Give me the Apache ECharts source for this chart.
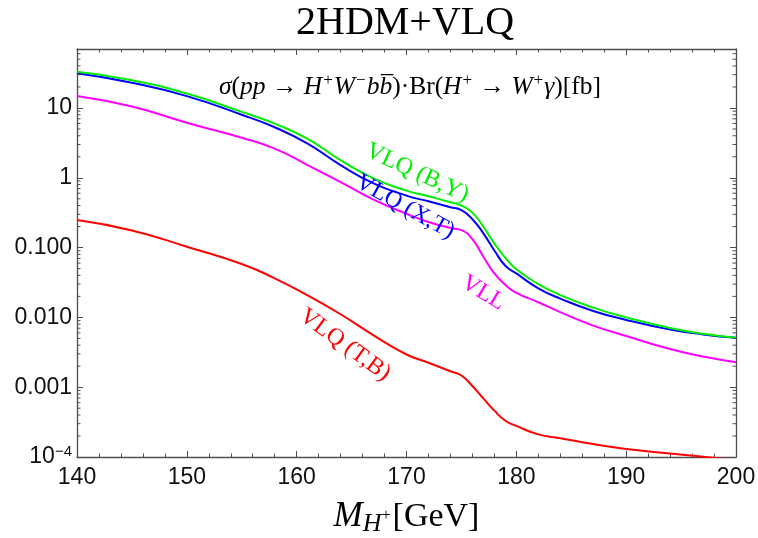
<!DOCTYPE html>
<html><head><meta charset="utf-8">
<script src="https://cdn.jsdelivr.net/npm/echarts@6/dist/echarts.min.js"></script>
<style>html,body{margin:0;padding:0;background:#fff}#c{width:758px;height:538px}</style>
</head><body><div id="c"></div><script>
// ---- data ----
const massX = [140,145,150,155,158,161,164,167,170,172,174,175,176,177,178,179,180,182,184,187,190,194,197,200];
const vlqBY = [33,25,16.1,8.8,5.97,3.61,1.79,0.98,0.655,0.543,0.447,0.40,0.317,0.199,0.115,0.0714,0.0489,0.030,0.0209,0.0138,0.0100,0.00706,0.00583,0.0051];
const vlqXT = [31.4,23,14.8,8.0,5.3,3.08,1.52,0.83,0.555,0.46,0.379,0.343,0.255,0.16,0.091,0.055,0.0427,0.0261,0.0186,0.01236,0.0092,0.00671,0.00571,0.0051];
const vll   = [14.9,10.5,6.14,3.74,2.62,1.52,0.87,0.488,0.305,0.233,0.191,0.178,0.132,0.074,0.0428,0.0293,0.0224,0.0165,0.0119,0.00762,0.00542,0.00352,0.00275,0.00228];
const vlqTB = [0.248,0.176,0.103,0.0583,0.0363,0.0207,0.0111,0.00554,0.00294,0.00224,0.00169,0.00147,0.00104,0.00069,0.000461,0.000331,0.000279,0.000211,0.000186,0.000153,0.00013,0.000112,0.000101,0.000089];
const seriesNames = ['VLQ (B,Y)','VLQ (X,T)','VLL','VLQ (T,B)'];
const yTickValues = [0.0001,0.001,0.01,0.1,1,10];
const yTickLabels = ['10^-4','0.001','0.010','0.100','1','10'];
const xTickLabels = ['140','150','160','170','180','190','200'];
const yMin = 0.0001, yMax = 70;
// ---- style / layout ----
const colors = ['#00ee00','#0000ff','#ff00ff','#ff0000'];
const labelAnchors = [[170.97,1.17,25],[169.87,0.382,29],[176.98,0.0224,31],[164.4,0.00403,36]];
const axisColor = '#4d4d4d';
const serif = 'Liberation Serif', sans = 'Liberation Sans';

const yMinor = [];
for (let k = -4; k <= 1; k++) for (let m = 2; m <= 9; m++) { const v = +(m * Math.pow(10, k)).toPrecision(3); if (v < yMax) yMinor.push(v); }

function fmtY(v) {
  const k = Math.round(Math.log10(v));
  const i = yTickValues.findIndex(t => Math.round(Math.log10(t)) === k);
  const s = i >= 0 ? yTickLabels[i] : '';
  if (s.indexOf('^') >= 0) { const p = s.split('^'); return '{b|' + p[0] + '}{e|' + p[1].replace('-', '\u2212') + '}'; }
  return s;
}
function pairs(ys) { return massX.map((x, i) => [x, ys[i]]); }

const lineC = { color: axisColor, width: 1.3 };
const tickC = { color: axisColor, width: 1 };
function xAx(pos, labels) {
  return {
    type: 'value', min: 140, max: 200, interval: 10, position: pos,
    axisLine: { show: true, lineStyle: lineC },
    axisTick: { show: true, inside: true, length: 6, lineStyle: tickC },
    minorTick: { show: true, splitNumber: 5, length: 3.5, lineStyle: tickC },
    splitLine: { show: false },
    axisLabel: labels ? { show: true, fontFamily: sans, fontSize: 23, color: '#111', margin: 9,
      formatter: v => xTickLabels[Math.round((v - 140) / 10)] } : { show: false }
  };
}
function yAx(pos, labels) {
  return {
    type: 'log', min: yMin, max: yMax, position: pos, logBase: 10,
    axisLine: { show: true, lineStyle: lineC },
    axisTick: { show: true, inside: true, length: 6, lineStyle: tickC, customValues: yTickValues },
    splitLine: { show: false }, minorTick: { show: false },
    axisLabel: labels ? { show: true, customValues: yTickValues, formatter: fmtY, fontFamily: sans, fontSize: 23, color: '#111', margin: 5,
      rich: { b: { fontFamily: sans, fontSize: 23, color: '#111' }, e: { fontFamily: sans, fontSize: 15, color: '#111', verticalAlign: 'top', padding: [0, 0, 10, 0] } } } : { show: false }
  };
}

const chart = echarts.init(document.getElementById('c'));
const xa = xAx('bottom', true);
xa.name = '{m|M}{sub|H}{sup|+}{n|[GeV]}';
xa.nameLocation = 'middle';
xa.nameGap = 40;
xa.nameTextStyle = { rich: {
  m: { fontFamily: serif, fontStyle: 'italic', fontSize: 35, color: '#000', lineHeight: 36 },
  sub: { fontFamily: serif, fontStyle: 'italic', fontSize: 26, color: '#000', padding: [14, 0, 0, 0] },
  sup: { fontFamily: serif, fontSize: 16, color: '#000', padding: [0, 2, 2, 0] },
  n: { fontFamily: serif, fontSize: 34, color: '#000', lineHeight: 36 }
} };

chart.setOption({
  animation: false,
  title: { text: '2HDM+VLQ', left: 296, top: 3, padding: 0,
    textStyle: { fontFamily: serif, fontSize: 40, fontWeight: 'normal', color: '#000' } },
  grid: { left: 77, right: 22, top: 49, bottom: 81, containLabel: false, outerBoundsMode: 'none' },
  xAxis: [xa, xAx('top', false)],
  yAxis: [yAx('left', true), yAx('right', false)],
  series: [vlqBY, vlqXT, vll, vlqTB].map((ys, i) => ({
    name: seriesNames[i], type: 'line', data: pairs(ys), xAxisIndex: 0, yAxisIndex: 0,
    showSymbol: false, symbol: 'none', smooth: 0.5, clip: true,
    lineStyle: { color: colors[i], width: 2 }, z: 10 - i
  }))
});

const graphics = labelAnchors.map((a, i) => {
  const p = chart.convertToPixel({ xAxisIndex: 0, yAxisIndex: 0 }, [a[0], a[1]]);
  return { type: 'text', x: p[0], y: p[1], rotation: -a[2] * Math.PI / 180, z: 20,
    style: { text: seriesNames[i], fill: colors[i], fontFamily: serif, fontSize: 24, align: 'center', verticalAlign: 'middle' } };
});
// log-scale minor ticks on left and right frames, positioned through the axis scale
const xL = chart.convertToPixel({ xAxisIndex: 0 }, 140), xR = chart.convertToPixel({ xAxisIndex: 0 }, 200);
yMinor.forEach(v => {
  const py = chart.convertToPixel({ yAxisIndex: 0 }, v);
  graphics.push({ type: 'line', z: 15, shape: { x1: xL, y1: py, x2: xL + 3.5, y2: py }, style: { stroke: axisColor, lineWidth: 1 } });
  graphics.push({ type: 'line', z: 15, shape: { x1: xR - 3.5, y1: py, x2: xR, y2: py }, style: { stroke: axisColor, lineWidth: 1 } });
});
graphics.push({
  type: 'text', x: 219, y: 87, z: 20,
  style: {
    text: '{i|\u03C3}{r|(}{i|pp}{r| \u2192 }{i|H}{s|+}{i|W}{s|\u2212}{i|b}{i|b\u0305}{r|)\u00B7Br(}{i|H}{s|+}{r| \u2192 }{i|W}{s|+}{i|\u03B3}{r|)[fb]}',
    verticalAlign: 'middle', align: 'left',
    rich: {
      i: { fontFamily: serif, fontStyle: 'italic', fontSize: 25.5, fill: '#000', lineHeight: 30 },
      r: { fontFamily: serif, fontSize: 25.5, fill: '#000', lineHeight: 30 },
      s: { fontFamily: serif, fontSize: 17, fill: '#000', lineHeight: 17, verticalAlign: 'top', padding: [0, 1, 0, 1] }
    }
  }
});
chart.setOption({ graphic: graphics });
</script></body></html>
